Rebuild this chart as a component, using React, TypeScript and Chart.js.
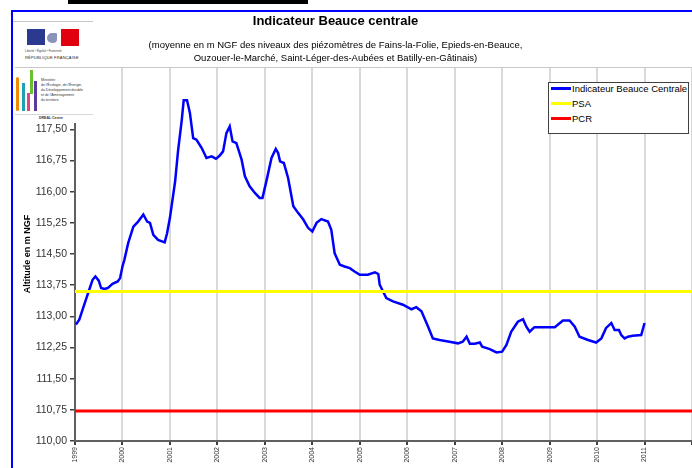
import React, { useEffect, useRef } from "react";
import { Chart, registerables } from "chart.js";

Chart.register(...registerables);

// Decimal years of the readings (blue line)
const years = [
  1999.02, 1999.09, 1999.16, 1999.23, 1999.3, 1999.37, 1999.43, 1999.5, 1999.55, 1999.62,
  1999.69, 1999.79, 1999.9, 1999.95, 2000.0, 2000.04, 2000.12, 2000.23, 2000.33, 2000.44,
  2000.52, 2000.58, 2000.65, 2000.75, 2000.89, 2000.94, 2001.0, 2001.11, 2001.17, 2001.25,
  2001.29, 2001.36, 2001.42, 2001.49, 2001.56, 2001.67, 2001.77, 2001.88, 2001.97, 2002.05,
  2002.12, 2002.19, 2002.26, 2002.32, 2002.4, 2002.51, 2002.58, 2002.68, 2002.79, 2002.89,
  2002.95, 2003.04, 2003.14, 2003.23, 2003.28, 2003.32, 2003.4, 2003.49, 2003.6, 2003.7,
  2003.81, 2003.91, 2004.0, 2004.09, 2004.19, 2004.33, 2004.4, 2004.47, 2004.58, 2004.68,
  2004.79, 2004.89, 2005.0, 2005.17, 2005.32, 2005.39, 2005.42, 2005.56, 2005.7, 2005.91,
  2006.09, 2006.19, 2006.3, 2006.44, 2006.54, 2006.68, 2006.89, 2007.07, 2007.17, 2007.25,
  2007.32, 2007.42, 2007.53, 2007.58, 2007.74, 2007.88, 2008.0, 2008.09, 2008.19, 2008.33,
  2008.44, 2008.51, 2008.58, 2008.68, 2008.93, 2009.11, 2009.28, 2009.42, 2009.53, 2009.63,
  2009.81, 2009.98, 2010.09, 2010.19, 2010.3, 2010.37, 2010.46, 2010.51, 2010.58, 2010.65,
  2010.75, 2010.93, 2011.0,
];

// Indicateur Beauce Centrale (m NGF)
const levels = [
  112.8, 112.92, 113.16, 113.4, 113.64, 113.88, 113.96, 113.86, 113.68, 113.66,
  113.68, 113.78, 113.84, 113.92, 114.2, 114.36, 114.76, 115.16, 115.28, 115.45,
  115.28, 115.25, 114.96, 114.84, 114.78, 115.0, 115.37, 116.25, 116.97, 117.73,
  118.2, 118.2, 117.9, 117.29, 117.25, 117.05, 116.81, 116.85, 116.79, 116.87,
  116.97, 117.41, 117.57, 117.21, 117.17, 116.77, 116.37, 116.13, 115.97, 115.85,
  115.85, 116.29, 116.81, 117.03, 116.93, 116.73, 116.69, 116.33, 115.65, 115.49,
  115.33, 115.13, 115.04, 115.25, 115.34, 115.28, 115.08, 114.52, 114.24, 114.2,
  114.16, 114.08, 114.0, 114.0, 114.06, 114.02, 113.76, 113.44, 113.36, 113.28,
  113.17, 113.22, 113.12, 112.75, 112.47, 112.43, 112.39, 112.35, 112.39, 112.51,
  112.34, 112.34, 112.37, 112.27, 112.21, 112.13, 112.15, 112.31, 112.63, 112.87,
  112.93, 112.75, 112.63, 112.74, 112.74, 112.74, 112.9, 112.9, 112.75, 112.51,
  112.43, 112.37, 112.47, 112.72, 112.84, 112.67, 112.67, 112.55, 112.47, 112.51,
  112.53, 112.55, 112.84,
];

const psaLevel = 113.6;
const pcrLevel = 110.72;
const xStart = 1999;
const xEnd = 2012;
const lastLabelYear = 2011;
const yMin = 110;
const yMax = 119;
const yStep = 0.75;

const seriesNames = ["Indicateur Beauce Centrale", "PSA", "PCR"];
const seriesColors = ["#0000ff", "#ffff00", "#ff0000"];

const titleText = "Indicateur Beauce centrale";
const subtitleLines = [
  "(moyenne en m NGF des niveaux des piézomètres de Fains-la-Folie, Epieds-en-Beauce,",
  "Ouzouer-le-Marché, Saint-Léger-des-Aubées et Batilly-en-Gâtinais)",
];
const yAxisTitle = "Altitude en m NGF";

const FONT = "'Liberation Sans', Arial, sans-serif";

const topBorderPlugin = {
  id: "topBorder",
  afterDraw(chart: any) {
    const { ctx, chartArea } = chart;
    ctx.save();
    ctx.strokeStyle = "#c8c8c8";
    ctx.lineWidth = 1;
    ctx.beginPath();
    ctx.moveTo(chartArea.left, chartArea.top + 0.5);
    ctx.lineTo(chartArea.right, chartArea.top + 0.5);
    ctx.stroke();
    ctx.restore();
  },
};

export default function App() {
  const canvasRef = useRef<HTMLCanvasElement | null>(null);

  useEffect(() => {
    if (!canvasRef.current) return;
    const chart = new Chart(canvasRef.current, {
      type: "line",
      data: {
        datasets: [
          {
            label: seriesNames[0],
            data: years.map((x, i) => ({ x, y: levels[i] })),
            borderColor: seriesColors[0],
            borderWidth: 2.5,
            pointRadius: 0,
            tension: 0,
            order: 2,
          },
          {
            label: seriesNames[1],
            data: [
              { x: xStart, y: psaLevel },
              { x: xEnd, y: psaLevel },
            ],
            borderColor: seriesColors[1],
            borderWidth: 3,
            pointRadius: 0,
            order: 1,
          },
          {
            label: seriesNames[2],
            data: [
              { x: xStart, y: pcrLevel },
              { x: xEnd, y: pcrLevel },
            ],
            borderColor: seriesColors[2],
            borderWidth: 3,
            pointRadius: 0,
            order: 1,
          },
        ],
      },
      options: {
        responsive: false,
        animation: false,
        layout: { padding: { top: 67, left: 0, right: 0, bottom: 0 } },
        plugins: {
          legend: { display: false },
          tooltip: { enabled: false },
          title: { display: false },
        },
        scales: {
          x: {
            type: "linear",
            min: xStart,
            max: xEnd,
            ticks: {
              stepSize: 1,
              autoSkip: false,
              minRotation: 90,
              maxRotation: 90,
              padding: 2,
              color: "#333",
              font: { size: 7, family: FONT },
              callback: (v: any) => (Number(v) <= lastLabelYear ? String(v) : ""),
            },
            grid: {
              color: "#d9d9d9",
              lineWidth: 2,
              tickColor: "#404040",
              tickLength: 4,
            },
            border: { color: "#606060", width: 2 },
            afterFit: (s: any) => {
              s.height = 27;
              s.paddingLeft = 0;
              s.paddingRight = 0;
            },
          },
          y: {
            min: yMin,
            max: yMax,
            ticks: {
              stepSize: yStep,
              padding: 3,
              color: "#333",
              font: { size: 10.5, family: FONT },
              callback: (v: any) => Number(v).toFixed(2).replace(".", ","),
            },
            grid: {
              drawOnChartArea: false,
              tickLength: 5,
              tickColor: "#404040",
              lineWidth: 1.5,
            },
            border: { color: "#606060", width: 2 },
            title: {
              display: true,
              text: yAxisTitle,
              color: "#000",
              font: { size: 9, weight: "bold", family: FONT },
              padding: { top: 22, bottom: 0 },
            },
            afterFit: (s: any) => {
              s.width = 75;
            },
          },
        },
      },
      plugins: [topBorderPlugin],
    } as any);
    return () => chart.destroy();
  }, []);

  const abs = (o: any) => ({ position: "absolute" as const, ...o });

  return (
    <div
      style={{
        position: "fixed",
        left: 0,
        top: 0,
        width: 692,
        height: 468,
        overflow: "hidden",
        background: "#fff",
        fontFamily: FONT,
      }}
    >
      <canvas ref={canvasRef} width={692} height={468} style={abs({ left: 0, top: 0 })} />

      {/* black bar at top */}
      <div style={abs({ left: 68, top: 0, width: 240, height: 4, background: "#000" })} />

      {/* blue frame */}
      <div style={abs({ left: 11, top: 10, width: 700, height: 2, background: "#0000ff" })} />
      <div style={abs({ left: 11, top: 10, width: 2, height: 470, background: "#0000ff" })} />

      {/* title */}
      <div
        style={abs({
          left: 0,
          top: 13,
          width: 671,
          textAlign: "center",
          fontSize: 13,
          fontWeight: "bold",
          color: "#000",
          whiteSpace: "nowrap",
        })}
      >
        {titleText}
      </div>
      <div
        style={abs({
          left: 0,
          top: 38,
          width: 671,
          textAlign: "center",
          fontSize: 9.5,
          lineHeight: "13px",
          color: "#000",
          whiteSpace: "nowrap",
        })}
      >
        {subtitleLines.map((l, i) => (
          <div key={i}>{l}</div>
        ))}
      </div>

      {/* logo block */}
      <div style={abs({ left: 13, top: 15, width: 80, height: 108, background: "#fff" })}>
        <div style={abs({ left: 0, top: 6, width: 80, height: 1, background: "#c8c8c8" })} />
        <div style={abs({ left: 14, top: 14, width: 18, height: 16, background: "#2b3a8f" })} />
        <div style={abs({ left: 34, top: 18, width: 10, height: 10, background: "#8a93b8", borderRadius: "50% 10% 40% 50%" })} />
        <div style={abs({ left: 48, top: 14, width: 18, height: 17, background: "#e1000f" })} />
        <div style={abs({ left: 12, top: 34, width: 60, fontSize: 3, color: "#444", whiteSpace: "nowrap" })}>
          Liberté • Égalité • Fraternité
        </div>
        <div style={abs({ left: 12, top: 40, width: 60, fontSize: 4, color: "#222", whiteSpace: "nowrap", letterSpacing: 0.2 })}>
          RÉPUBLIQUE FRANÇAISE
        </div>
        <div style={abs({ left: 2, top: 52, width: 78, height: 1, background: "#c8c8c8" })} />
        <div style={abs({ left: 3, top: 62, width: 3, height: 34, background: "#f08a00", borderRadius: 2 })} />
        <div style={abs({ left: 9, top: 68, width: 3, height: 28, background: "#1fa0b5" })} />
        <div style={abs({ left: 17, top: 55, width: 3, height: 24, background: "#6abf2e" })} />
        <div style={abs({ left: 14, top: 78, width: 3, height: 18, background: "#e0457b" })} />
        <div style={abs({ left: 21, top: 66, width: 3, height: 30, background: "#5a3a9a" })} />
        <div style={abs({ left: 28, top: 63, width: 52, fontSize: 3.5, lineHeight: "5px", color: "#333", whiteSpace: "nowrap" })}>
          <div>Ministère</div>
          <div>de l'Écologie, de l'Énergie,</div>
          <div>du Développement durable</div>
          <div>et de l'Aménagement</div>
          <div>du territoire</div>
        </div>
        <div style={abs({ left: 2, top: 99, width: 78, height: 1, background: "#d8d8d8" })} />
        <div style={abs({ left: 26, top: 101, fontSize: 3.5, fontWeight: "bold", color: "#333", whiteSpace: "nowrap" })}>
          DREAL Centre
        </div>
      </div>

      {/* legend */}
      <div
        style={abs({
          left: 548,
          top: 82,
          width: 139,
          height: 50,
          border: "1px solid #404040",
          background: "#fff",
          fontSize: 9.5,
          color: "#000",
        })}
      >
        {seriesNames.map((n, i) => (
          <div key={n} style={abs({ left: 2, top: -1 + i * 15, height: 13, display: "flex", alignItems: "center", whiteSpace: "nowrap" })}>
            <span style={{ display: "inline-block", width: 20, height: 3, background: seriesColors[i], marginRight: 1 }} />
            <span>{n}</span>
          </div>
        ))}
      </div>
    </div>
  );
}
